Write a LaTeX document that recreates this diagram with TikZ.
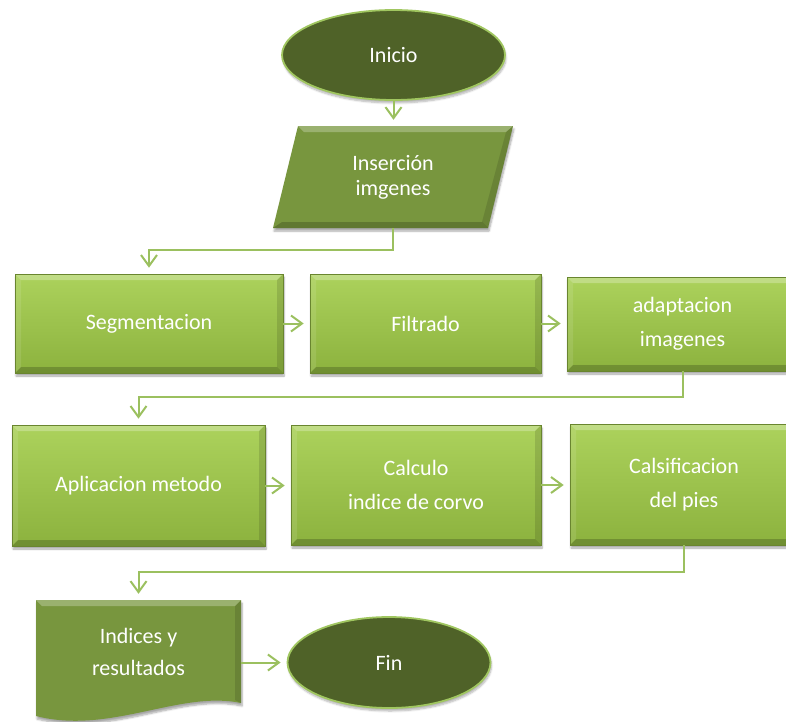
\documentclass[tikz,border=0pt]{standalone}
\usepackage{fontspec}
\setmainfont{Carlito}
\usetikzlibrary{arrows.meta,shapes.geometric,shadows.blur}

\definecolor{boxtop}{RGB}{172,210,92}
\definecolor{boxbot}{RGB}{140,178,62}
\definecolor{olive}{RGB}{79,98,40}
\definecolor{midgreen}{RGB}{120,150,62}
\definecolor{linkgreen}{RGB}{155,192,95}
\definecolor{rimgreen}{RGB}{160,198,96}

% bevelled faces drawn inside a rectangular node
\newcommand\bevelfaces{%
  \fill[white,opacity=.26] (path picture bounding box.north west) -- (path picture bounding box.north east)
    -- ([shift={(-6pt,-6pt)}]path picture bounding box.north east) -- ([shift={(6pt,-6pt)}]path picture bounding box.north west) -- cycle;
  \fill[white,opacity=.10] (path picture bounding box.north west) -- ([shift={(6pt,-6pt)}]path picture bounding box.north west)
    -- ([shift={(6pt,6pt)}]path picture bounding box.south west) -- (path picture bounding box.south west) -- cycle;
  \fill[black,opacity=.12] (path picture bounding box.north east) -- ([shift={(-6pt,-6pt)}]path picture bounding box.north east)
    -- ([shift={(-6pt,6pt)}]path picture bounding box.south east) -- (path picture bounding box.south east) -- cycle;
  \fill[black,opacity=.20] (path picture bounding box.south west) -- (path picture bounding box.south east)
    -- ([shift={(-6pt,6pt)}]path picture bounding box.south east) -- ([shift={(6pt,6pt)}]path picture bounding box.south west) -- cycle;
}

\tikzset{
  x=1pt, y=-1pt,
  lbl/.style={text=white, align=center, inner sep=0pt},
  procbox/.style={lbl, rectangle, font=\fontsize{22}{34}\selectfont,
    top color=boxtop, bottom color=boxbot, draw=boxbot!75!black, line width=0.6pt,
    blur shadow={shadow xshift=1pt, shadow yshift=-3pt, shadow opacity=35, shadow blur steps=6},
    path picture={\bevelfaces}},
  terminal/.style={lbl, ellipse, font=\fontsize{22}{34}\selectfont, fill=olive, draw=rimgreen, line width=1.8pt,
    blur shadow={shadow xshift=1pt, shadow yshift=-3pt, shadow opacity=30, shadow blur steps=6}},
  iofill/.style={fill=midgreen, blur shadow={shadow xshift=1pt, shadow yshift=-3pt, shadow opacity=35, shadow blur steps=6}},
  link/.style={draw=linkgreen, line width=2pt, -{Straight Barb[length=11pt,width=16pt]}, shorten >=6pt}
}

\begin{document}
\begin{tikzpicture}
\useasboundingbox (0,0) rectangle (786,721);

% start
\node[terminal, minimum width=223, minimum height=90] (ini) at (393.5,55) {Inicio};

% input parallelogram
\path[iofill] (298,126) -- (513,126) -- (488,228) -- (273,228) -- cycle;
\fill[white,opacity=.26] (298,126) -- (513,126) -- (506,132) -- (304,132) -- cycle;
\fill[black,opacity=.20] (273,228) -- (488,228) -- (482,222) -- (282,222) -- cycle;
\fill[black,opacity=.12] (513,126) -- (488,228) -- (482,222) -- (506,132) -- cycle;
\node[lbl, font=\fontsize{22}{25}\selectfont, minimum width=215, minimum height=102] (ins) at (393,177) {Inserción\\imgenes};

% first row
\node[procbox, minimum width=268, minimum height=99] (seg) at (149,323.5) {Segmentacion};
\node[procbox, minimum width=231, minimum height=99] (fil) at (425.5,323.5) {Filtrado};
\node[procbox, minimum width=231, minimum height=94] (ada) at (682.5,324) {adaptacion\\imagenes};

% second row
\node[procbox, minimum width=253, minimum height=121] (apl) at (138.5,485.5) {Aplicacion metodo};
\node[procbox, minimum width=250, minimum height=120] (cal) at (416,485) {Calculo\\indice de corvo};
\node[procbox, minimum width=228, minimum height=121] (cls) at (684,484.5) {Calsificacion\\del pies};

% output document
\path[iofill] (36,600) -- (241,600) -- (241,703) .. controls (180,690) and (110,735) .. (36,716) -- cycle;
\fill[white,opacity=.26] (36,600) -- (241,600) -- (235,606) -- (42,606) -- cycle;
\fill[black,opacity=.12] (241,600) -- (241,703) -- (235,700) -- (235,606) -- cycle;
\node[lbl, font=\fontsize{22}{32}\selectfont, minimum width=205, minimum height=103] (doc) at (138.5,651.5) {Indices y\\resultados};

% end
\node[terminal, minimum width=203, minimum height=91] (fin) at (389,662.5) {Fin};

% connectors
\draw[link] (ini.south) -- (ini.south |- ins.north);
\draw[link] (ins.south) -- ++(0,22) -| (seg.north);
\draw[link] (seg.east) -- (fil.west);
\draw[link] (fil.east) -- (ada.west |- fil.east);
\draw[link] (ada.south) -- ++(0,26) -| (apl.north);
\draw[link] (apl.east) -- (cal.west |- apl.east);
\draw[link] (cal.east) -- (cls.west |- cal.east);
\draw[link] (cls.south) -- ++(0,27) -| (doc.north);
\draw[link] (doc.east |- fin.west) -- (fin.west);
\end{tikzpicture}
\end{document}
